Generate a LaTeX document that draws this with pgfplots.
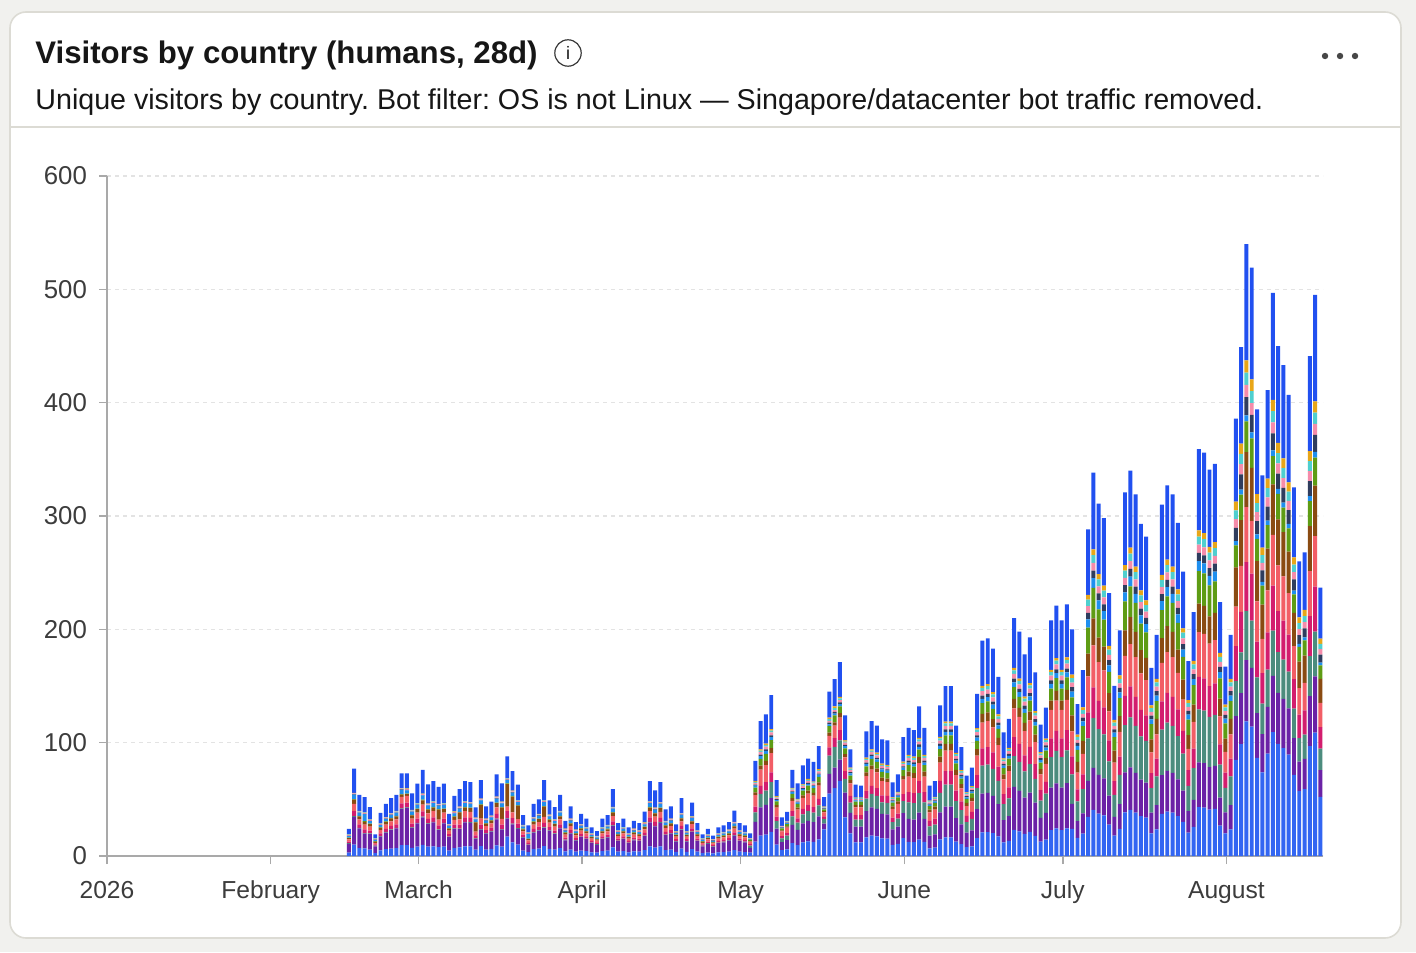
\documentclass[border=0pt]{standalone}
\usepackage{fontspec}
\setmainfont{Liberation Sans}
\usepackage{pgfplots}
\usepackage{pgfplotstable}
\pgfplotsset{compat=1.18}
\definecolor{bgc}{HTML}{F1F1EE}
\definecolor{cardb}{HTML}{DCDBD4}
\definecolor{axisc}{HTML}{A9A9A9}
\definecolor{gridc}{HTML}{E3E3E3}
\definecolor{labc}{HTML}{3C3C3C}
\definecolor{titc}{HTML}{161616}
\definecolor{cb}{HTML}{3366F2}
\definecolor{cp}{HTML}{6B22A6}
\definecolor{ct}{HTML}{4C8C7E}
\definecolor{cm}{HTML}{D31D6E}
\definecolor{cc}{HTML}{F25E66}
\definecolor{cbr}{HTML}{8A4B12}
\definecolor{cg}{HTML}{5E9C14}
\definecolor{clb}{HTML}{1F8FEF}
\definecolor{cnv}{HTML}{2F3D5E}
\definecolor{cpk}{HTML}{F58CAA}
\definecolor{ccy}{HTML}{4FCFCF}
\definecolor{cor}{HTML}{E8A618}
\definecolor{co}{HTML}{2150F0}

\pgfplotstableread{
i b p t m c br g lb nv pk cy or o
0 3.1 7.7 .5 1.4 1.9 1.2 .5 1.2 .3 .7 .3 .3 4.8
1 10 24.6 .5 4.6 6.2 3.9 .5 3.9 .3 .7 .3 .3 21.2
2 7 17.3 .5 3.2 4.3 2.7 .5 2.7 .3 .7 .3 .3 14.1
3 6.8 13 .5 3.1 4.2 2.6 .5 6.2 .3 .7 .3 .3 13.5
4 5.6 13.8 .5 2.6 3.4 2.2 .5 2.2 .3 .7 .3 .3 10.7
5 2.5 6.1 .5 1.1 1.5 1 .5 1 .3 .7 .3 .3 3.3
6 4.9 12.2 .5 2.3 3 1.9 .5 1.9 .3 .7 .3 .3 9.2
7 6 14.7 .5 2.8 3.7 2.3 .5 2.3 .3 .7 .3 .3 11.7
8 6.6 16.3 .5 3.1 4.1 2.6 .5 2.6 .3 .7 .3 .3 13.2
9 7 17.3 .5 3.2 4.3 2.7 .5 2.7 .3 .7 .3 .3 14.1
10 9.5 32 .5 4.4 5.8 2 .5 3.7 .3 .7 .3 .3 13
11 9.5 33 .5 4 6 1.5 .5 3 .3 .7 .3 .3 13.4
12 7.2 17.6 .5 3.3 4.4 2.8 .5 2.8 .3 .7 .3 .3 14.5
13 8.3 20.5 .5 3.8 5.1 3.2 .5 3.2 .3 .7 .3 .3 17.2
14 9.9 24.3 .5 4.6 6.1 3.8 .5 3.8 .3 .7 .3 .3 21
15 8.2 20.2 .5 3.8 5 3.2 .5 3.2 .3 .7 .3 .3 16.9
16 8.6 21.1 .5 4 5.3 3.3 .5 3.3 .3 .7 .3 .3 17.9
17 7.9 15 .5 3.7 4.9 9 .5 3 .3 .7 .3 .3 14.9
18 8.3 20.5 .5 3.8 5.1 3.2 .5 3.2 .3 .7 .3 .3 17.2
19 4.8 11.8 .5 2.2 3 1.9 .5 1.9 .3 .7 .3 .3 8.9
20 6.9 17 .5 3.2 4.2 2.7 .5 2.7 .3 .7 .3 .3 13.8
21 7.7 16 .5 3.5 4.7 6 .5 3 .3 .7 .3 .3 15.5
22 8.6 21.1 .5 4 5.3 3.3 .5 3.3 .3 .7 .3 .3 17.9
23 8.5 20.8 .5 3.9 5.2 3.3 .5 3.3 .3 .7 .3 .3 17.6
24 5.6 9.5 .5 2.6 3.4 8 .5 2.2 .3 .7 .3 .3 9.1
25 8.7 14.5 .5 4 5.4 12 .5 3.4 .3 .7 .3 .3 16.4
26 5.7 14.1 .5 2.6 3.5 2.2 .5 2.2 .3 .7 .3 .3 11
27 6.2 15.4 .5 2.9 3.8 2.4 .5 2.4 .3 .7 .3 .3 12.3
28 9.4 23 .5 4.3 5.8 3.6 .5 3.6 .3 .7 .3 .3 19.7
29 8.3 15 .5 3.8 5.1 10 .5 3.2 .3 .7 .3 .3 16
30 17 16 .5 6 4 20 .5 3 .3 .7 .3 .3 19.4
31 12 16 .5 5 5 14 .5 3 .3 .7 .3 .3 17.4
32 10 14 .5 4 4 12 .5 2.5 .3 .7 .3 .3 13.9
33 4.7 11.5 .5 2.2 2.9 1.8 .5 1.8 .3 .7 .3 .3 8.6
34 3.5 6 .5 1.6 2.2 1 .5 4 .3 .7 .3 .3 6.1
35 6 14.7 .5 2.8 3.7 2.3 .5 2.3 .3 .7 .3 .3 11.7
36 6.5 16 .5 3 4 2.5 .5 2.5 .3 .7 .3 .3 12.9
37 8.7 16 .5 4 5.4 9 .5 3.4 .3 .7 .3 .3 17.9
38 6.4 15.7 .5 2.9 3.9 2.5 .5 2.5 .3 .7 .3 .3 12.6
39 5.6 13.8 .5 2.6 3.4 2.2 .5 2.2 .3 .7 .3 .3 10.7
40 7 17.3 .5 3.2 4.3 2.7 .5 2.7 .3 .7 .3 .3 14.1
41 4 9.9 .5 1.9 2.5 1.6 .5 1.6 .3 .7 .3 .3 7
42 5.7 14.1 .5 2.6 3.5 2.2 .5 2.2 .3 .7 .3 .3 11
43 3.9 9.6 .5 1.8 2.4 1.5 .5 1.5 .3 .7 .3 .3 6.7
44 4.8 11.8 .5 2.2 3 1.9 .5 1.9 .3 .7 .3 .3 8.9
45 4.3 10.6 .5 2 2.6 1.7 .5 1.7 .3 .7 .3 .3 7.6
46 3.3 8 .5 1.5 2 1.3 .5 1.3 .3 .7 .3 .3 5.2
47 2.9 7 .5 1.3 1.8 1.1 .5 1.1 .3 .7 .3 .3 4.2
48 4.3 10.6 .5 2 2.6 1.7 .5 1.7 .3 .7 .3 .3 7.6
49 4.7 11.5 .5 2.2 2.9 1.8 .5 1.8 .3 .7 .3 .3 8.6
50 7.7 18.9 .5 3.5 4.7 3 .5 3 .3 .7 .3 .3 15.7
51 3.8 9.3 .5 1.7 2.3 1.5 .5 1.5 .3 .7 .3 .3 6.4
52 4.3 10.6 .5 2 2.6 1.7 .5 1.7 .3 .7 .3 .3 7.6
53 3.3 8 .5 1.5 2 1.3 .5 1.3 .3 .7 .3 .3 5.2
54 4 9.9 .5 1.9 2.5 1.6 .5 1.6 .3 .7 .3 .3 7
55 3.8 9.3 .5 1.7 2.3 1.5 .5 1.5 .3 .7 .3 .3 6.4
56 5.1 12.5 .5 2.3 3.1 2 .5 2 .3 .7 .3 .3 9.5
57 8.6 21.1 .5 4 5.3 3.3 .5 3.3 .3 .7 .3 .3 17.9
58 7.5 18.6 .5 3.5 4.6 2.9 .5 2.9 .3 .7 .3 .3 15.4
59 8.5 20.8 .5 3.9 5.2 3.3 .5 3.3 .3 .7 .3 .3 17.6
60 5.3 13.1 .5 2.5 3.3 2.1 .5 2.1 .3 .7 .3 .3 10.1
61 5.7 14.1 .5 2.6 3.5 2.2 .5 2.2 .3 .7 .3 .3 11
62 3.6 9 .5 1.7 2.2 1.4 .5 1.4 .3 .7 .3 .3 6.1
63 6.6 16.3 .5 3.1 4.1 2.6 .5 2.6 .3 .7 .3 .3 13.2
64 3.6 9 .5 1.7 2.2 1.4 .5 1.4 .3 .7 .3 .3 6.1
65 6.1 15 .5 2.8 3.8 2.4 .5 2.4 .3 .7 .3 .3 12
66 3.8 9.3 .5 1.7 2.3 1.5 .5 1.5 .3 .7 .3 .3 6.4
67 2.5 6.1 .5 1.1 1.5 1 .5 1 .3 .7 .3 .3 3.3
68 3.1 7.7 .5 1.4 1.9 1.2 .5 1.2 .3 .7 .3 .3 4.8
69 2.3 5.8 .5 1.1 1.4 .9 .5 .9 .3 .7 .3 .3 3
70 3.3 8 .5 1.5 2 1.3 .5 1.3 .3 .7 .3 .3 5.2
71 3.5 8.6 .5 1.6 2.2 1.4 .5 1.4 .3 .7 .3 .3 5.8
72 3.9 9.6 .5 1.8 2.4 1.5 .5 1.5 .3 .7 .3 .3 6.7
73 5.2 12.8 .5 2.4 3.2 2 .5 2 .3 .7 .3 .3 9.8
74 3.8 9.3 .5 1.7 2.3 1.5 .5 1.5 .3 .7 .3 .3 6.4
75 3.5 8.6 .5 1.6 2.2 1.4 .5 1.4 .3 .7 .3 .3 5.8
76 3 4.2 2 1.2 2.4 .6 1 .4 .2 .4 .2 .2 4.2
77 12.6 17.6 8.4 5 10.1 2.5 4.2 1.7 .8 1.7 .8 .8 17.8
78 17.9 25 11.9 7.1 14.3 3.6 6 2.4 1.2 2.4 1.2 1.2 24.8
79 18.8 26.3 12.5 7.5 15 3.8 6.3 2.5 1.3 2.5 1.3 1.3 25.9
80 21.3 29.8 14.2 8.5 17 4.3 7.1 2.8 1.4 2.8 1.4 1.4 30
81 10 14.1 6.7 4 8 2 3.4 1.3 .7 1.3 .7 .7 14.1
82 5.1 7.1 3.4 2 4.1 1 1.7 .7 .3 .7 .3 .3 7.3
83 5.9 8.2 3.9 2.3 4.7 1.2 2 .8 .4 .8 .4 .4 8
84 11.4 16 7.6 4.6 9.1 2.3 3.8 1.5 .8 1.5 .8 .8 15.8
85 9.6 13.4 6.4 3.8 7.7 1.9 3.2 1.3 .6 1.3 .6 .6 13.6
86 12 16.8 8 4.8 9.6 2.4 4 1.6 .8 1.6 .8 .8 16.8
87 12.9 18.1 8.6 5.2 10.3 2.6 4.3 1.7 .9 1.7 .9 .9 17.9
88 12.5 17.4 8.3 5 10 2.5 4.2 1.7 .8 1.7 .8 .8 17.3
89 14.6 20.4 9.7 5.8 11.6 2.9 4.9 1.9 1 1.9 1 1 20.3
90 23.4 5.2 4.2 2.1 3.6 1 1.6 .5 .5 .5 .5 .5 8.4
91 55.1 17.4 16 7.3 10.2 2.9 5.8 1.5 1.5 1.5 1.5 1.5 22.8
92 60 18 18 8 11 3 6 1.6 1.6 1.6 1.6 1.6 24
93 66 19 17 9 11 4 6 2 1.5 2 1.5 1.5 30.5
94 34 22 12 7 12 3 5 2 1 2 1 1 22
95 20 18 9 6 11 3 4 2 1 2 1 1 16
96 12 14 6 4 7 2 3 1 .5 1 .5 .5 11.5
97 12 14 6 4 7 2 3 1 .5 1 .5 .5 10.5
98 16.5 23.1 11 6.6 13.2 3.3 5.5 2.2 1.1 2.2 1.1 1.1 23.1
99 17.9 25 11.9 7.1 14.3 3.6 6 2.4 1.2 2.4 1.2 1.2 24.8
100 17.3 24.2 11.5 6.9 13.8 3.5 5.8 2.3 1.2 2.3 1.2 1.2 23.8
101 15.5 21.6 10.3 6.2 12.4 3.1 5.2 2.1 1 2.1 1 1 21.5
102 15.3 21.4 10.2 6.1 12.2 3.1 5.1 2 1 2 1 1 21.6
103 9.8 13.7 6.5 3.9 7.8 2 3.3 1.3 .7 1.3 .7 .7 13.3
104 10.8 15.1 7.2 4.3 8.6 2.2 3.6 1.4 .7 1.4 .7 .7 15.3
105 15.8 22.1 10.5 6.3 12.6 3.2 5.3 2.1 1.1 2.1 1.1 1.1 21.7
106 12.4 20.3 14.7 9 13.6 4.5 5.7 2.3 1.7 2.3 1.7 1.1 23.7
107 12.2 20 14.4 8.9 13.3 4.4 5.6 2.2 1.7 2.2 1.7 1.1 23.3
108 14.5 23.8 17.2 10.6 15.8 5.3 6.6 2.6 2 2.6 2 1.3 27.7
109 12.4 20.3 14.7 9 13.6 4.5 5.7 2.3 1.7 2.3 1.7 1.1 23.7
110 6.8 11.2 8.1 5 7.4 2.5 3.1 1.2 .9 1.2 .9 .6 13.1
111 7.3 11.9 8.6 5.3 7.9 2.6 3.3 1.3 1 1.3 1 .7 13.8
112 14.6 23.9 17.3 10.6 16 5.3 6.7 2.7 2 2.7 2 1.3 27.9
113 16.5 27 19.5 12 18 6 7.5 3 2.3 3 2.3 1.5 31.4
114 16.5 27 19.5 12 18 6 7.5 3 2.3 3 2.3 1.5 31.4
115 12.7 20.7 15 9.2 13.8 4.6 5.8 2.3 1.7 2.3 1.7 1.2 24
116 10.6 17.3 12.5 7.7 11.5 3.8 4.8 1.9 1.4 1.9 1.4 1 20.2
117 7.8 12.8 9.2 5.7 8.5 2.8 3.6 1.4 1.1 1.4 1.1 .7 14.9
118 8.6 14 10.1 6.2 9.4 3.1 3.9 1.6 1.2 1.6 1.2 .8 16.3
119 15.7 25.7 18.6 11.4 17.2 5.7 7.2 2.9 2.1 2.9 2.1 1.4 30.1
120 20.9 34.2 24.7 15.2 22.8 7.6 9.5 3.8 2.9 3.8 2.9 1.9 39.8
121 21.1 34.6 25 15.4 23 7.7 9.6 3.8 2.9 3.8 2.9 1.9 40.3
122 20.1 32.9 23.8 14.6 22 7.3 9.2 3.7 2.7 3.7 2.7 1.8 38.5
123 17.4 28.4 20.5 12.6 19 6.3 7.9 3.2 2.4 3.2 2.4 1.6 33.1
124 12 19.6 14.2 8.7 13.1 4.4 5.5 2.2 1.6 2.2 1.6 1.1 22.8
125 13.3 21.8 15.7 9.7 14.5 4.8 6.1 2.4 1.8 2.4 1.8 1.2 25.5
126 23.1 37.8 27.3 16.8 25.2 8.4 10.5 4.2 3.2 4.2 3.2 2.1 44
127 21.8 35.6 25.7 15.8 23.8 7.9 9.9 4 3 4 3 2 41.5
128 19.6 32 23.1 14.2 21.4 7.1 8.9 3.6 2.7 3.6 2.7 1.8 37.3
129 21.2 34.7 25.1 15.4 23.2 7.7 9.7 3.9 2.9 3.9 2.9 1.9 40.5
130 17.8 29.2 21.1 13 19.4 6.5 8.1 3.2 2.4 3.2 2.4 1.6 34.1
131 12.8 20.9 15.1 9.3 13.9 4.6 5.8 2.3 1.7 2.3 1.7 1.2 24.4
132 14.4 23.6 17 10.5 15.7 5.2 6.6 2.6 2 2.6 2 1.3 27.5
133 22.9 37.4 27 16.6 25 8.3 10.4 4.2 3.1 4.2 3.1 2.1 43.7
134 24.3 39.8 28.7 17.7 26.5 8.8 11.1 4.4 3.3 4.4 3.3 2.2 46.5
135 22.9 37.4 27 16.6 25 8.3 10.4 4.2 3.1 4.2 3.1 2.1 43.7
136 24.4 40 28.9 17.8 26.6 8.9 11.1 4.4 3.3 4.4 3.3 2.2 46.7
137 24 22 26 16 22 14 16 5 4 4 4 3 40
138 16.1 14.7 17.4 10.7 14.7 9.4 10.7 3.4 2.7 2.7 2.7 2 26.8
139 19.7 18 21.3 13.1 18 11.5 13.1 4.1 3.3 3.3 3.3 2.5 32.8
140 34.6 31.7 37.4 23 31.7 20.2 23 7.2 5.8 5.8 5.8 4.3 57.6
141 40.6 37.2 43.9 27 37.2 23.7 27 8.5 6.8 6.8 6.8 5.1 67.6
142 37.3 34.2 40.4 24.9 34.2 21.8 24.9 7.8 6.2 6.2 6.2 4.7 62.2
143 35.8 32.8 38.7 23.8 32.8 20.9 23.8 7.5 6 6 6 4.5 59.6
144 27.8 25.5 30.2 18.6 25.5 16.2 18.6 5.8 4.6 4.6 4.6 3.5 46.4
145 18 16.5 19.5 12 16.5 10.5 12 3.8 3 3 3 2.3 30
146 23.9 21.9 25.9 15.9 21.9 13.9 15.9 5 4 4 4 3 39.8
147 38.5 35.3 41.7 25.7 35.3 22.5 25.7 8 6.4 6.4 6.4 4.8 64.2
148 40.8 37.4 44.2 27.2 37.4 23.8 27.2 8.5 6.8 6.8 6.8 5.1 68
149 38.3 35.1 41.5 25.5 35.1 22.3 25.5 8 6.4 6.4 6.4 4.8 63.8
150 35.2 32.2 38.1 23.4 32.2 20.5 23.4 7.3 5.9 5.9 5.9 4.4 58.6
151 33.8 31 36.7 22.6 31 19.7 22.6 7.1 5.6 5.6 5.6 4.2 56.4
152 19.9 18.3 21.6 13.3 18.3 11.6 13.3 4.2 3.3 3.3 3.3 2.5 33.2
153 23.4 21.5 25.4 15.6 21.5 13.7 15.6 4.9 3.9 3.9 3.9 2.9 39
154 37.2 34.1 40.3 24.8 34.1 21.7 24.8 7.8 6.2 6.2 6.2 4.7 62
155 39.2 36 42.5 26.2 36 22.9 26.2 8.2 6.5 6.5 6.5 4.9 65.4
156 38.3 35.1 41.5 25.5 35.1 22.3 25.5 8 6.4 6.4 6.4 4.8 63.8
157 35.3 32.3 38.2 23.5 32.3 20.6 23.5 7.4 5.9 5.9 5.9 4.4 58.8
158 30.1 27.6 32.6 20.1 27.6 17.6 20.1 6.3 5 5 5 3.8 50.2
159 20.6 18.9 22.4 13.8 18.9 12 13.8 4.3 3.4 3.4 3.4 2.6 34.4
160 25.8 23.7 28 17.2 23.7 15.1 17.2 5.4 4.3 4.3 4.3 3.2 43
161 43.1 39.5 46.7 28.7 39.5 25.1 28.7 9 7.2 7.2 7.2 5.4 71.8
162 42.7 39.2 46.3 28.5 39.2 24.9 28.5 8.9 7.1 7.1 7.1 5.3 71.2
163 40.9 37.5 44.3 27.3 37.5 23.9 27.3 8.5 6.8 6.8 6.8 5.1 68.2
164 41.5 38.1 45 27.7 38.1 24.2 27.7 8.7 6.9 6.9 6.9 5.2 69.2
165 26.9 24.6 29.1 17.9 24.6 15.7 17.9 5.6 4.5 4.5 4.5 3.4 44.8
166 20 18.4 21.7 13.4 18.4 11.7 13.4 4.2 3.3 3.3 3.3 2.5 33.4
167 23.4 21.5 25.4 15.6 21.5 13.7 15.6 4.9 3.9 3.9 3.9 2.9 39
168 84.9 38.6 30.9 30.9 34.7 34.7 19.3 3.9 11.6 7.7 7.7 7.7 73.3
169 98.8 44.9 35.9 35.9 40.4 40.4 22.5 4.5 13.5 9 9 9 85.3
170 118.8 54 43.2 43.2 48.6 48.6 27 5.4 16.2 10.8 10.8 10.8 102.6
171 114.2 51.9 41.5 41.5 46.7 46.7 26 5.2 15.6 10.4 10.4 10.4 98.6
172 86.7 39.4 31.5 31.5 35.5 35.5 19.7 3.9 11.8 7.9 7.9 7.9 74.9
173 73.9 33.6 26.9 26.9 30.2 30.2 16.8 3.4 10.1 6.7 6.7 6.7 63.8
174 90.4 41.1 32.9 32.9 37 37 20.6 4.1 12.3 8.2 8.2 8.2 78.1
175 109.3 49.7 39.8 39.8 44.7 44.7 24.9 5 14.9 9.9 9.9 9.9 94.4
176 99 45 36 36 40.5 40.5 22.5 4.5 13.5 9 9 9 85.5
177 95.3 43.3 34.6 34.6 39 39 21.7 4.3 13 8.7 8.7 8.7 82.3
178 89.5 40.7 32.6 32.6 36.6 36.6 20.4 4.1 12.2 8.1 8.1 8.1 77.3
179 71.5 32.5 26 26 29.3 29.3 16.3 3.3 9.8 6.5 6.5 6.5 61.8
180 57.2 26 20.8 20.8 23.4 23.4 13 2.6 7.8 5.2 5.2 5.2 49.4
181 59 26.8 21.4 21.4 24.1 24.1 13.4 2.7 8 5.4 5.4 5.4 50.9
182 97 44.1 35.3 35.3 39.7 39.7 22.1 4.4 13.2 8.8 8.8 8.8 83.8
183 108.9 49.5 39.6 39.6 44.6 44.6 24.8 5 14.9 9.9 9.9 9.9 94
184 52.1 23.7 19 19 21.3 21.3 11.9 2.4 7.1 4.7 4.7 4.7 45
}\data

\begin{document}
\frenchspacing
\begin{tikzpicture}
\useasboundingbox (0,0) rectangle (708pt,-476pt);
\fill[bgc] (0,0) rectangle (708pt,-476pt);
\draw[fill=white, draw=cardb, line width=0.8pt, rounded corners=8pt] (5pt,-6pt) rectangle (700.5pt,-469pt);
\draw[cardb, line width=0.8pt] (5pt,-63.5pt) -- (700.5pt,-63.5pt);
\node[anchor=base west, inner sep=0pt, text=titc, font=\fontsize{15.6}{18}\selectfont\bfseries] at (17.5pt,-32pt) {Visitors by country (humans, 28d)};
\draw[line width=0.6pt, titc!85] (284pt,-26.5pt) circle (6.6pt);
\node[text=titc, font=\fontsize{9}{10}\selectfont, inner sep=0pt] at (284pt,-26.5pt) {i};
\node[anchor=base west, inner sep=0pt, text=titc, font=\fontsize{14.32}{17}\selectfont] at (17.5pt,-55pt) {Unique visitors by country. Bot filter: OS is not Linux — Singapore/datacenter bot traffic removed.};
\fill[black!72] (662.5pt,-28pt) circle (1.6pt);
\fill[black!72] (670pt,-28pt) circle (1.6pt);
\fill[black!72] (677.5pt,-28pt) circle (1.6pt);
\begin{axis}[
  at={(53.5pt,-428pt)}, anchor=south west,
  scale only axis, width=608pt, height=340pt,
  xmin=0, xmax=230.3, ymin=0, ymax=600,
  ybar stacked, bar width=0.75,
  axis x line=bottom, axis y line=left,
  axis line style={draw=axisc, line width=0.8pt, -},
  xtick={0,31,59,90,120,151,181,212},
  xticklabels={2026,February,March,April,May,June,July,August},
  ytick={0,100,200,300,400,500,600},
  tick align=outside, major tick length=4pt,
  tick style={draw=axisc, line width=0.8pt},
  ymajorgrids, grid style={dash pattern=on 2pt off 2pt, draw=gridc, line width=0.6pt},
  xticklabel style={font=\fontsize{12.3}{14}\selectfont, text=labc, yshift=-5pt},
  yticklabel style={font=\fontsize{12.9}{14}\selectfont, text=labc, xshift=-2.5pt},
  /pgf/number format/assume math mode=true,
  every axis plot/.append style={draw=none},
]
\addplot[fill=cb]  table[x expr=\thisrow{i}+45.8, y=b]  {\data};
\addplot[fill=cp]  table[x expr=\thisrow{i}+45.8, y=p]  {\data};
\addplot[fill=ct]  table[x expr=\thisrow{i}+45.8, y=t]  {\data};
\addplot[fill=cm]  table[x expr=\thisrow{i}+45.8, y=m]  {\data};
\addplot[fill=cc]  table[x expr=\thisrow{i}+45.8, y=c]  {\data};
\addplot[fill=cbr] table[x expr=\thisrow{i}+45.8, y=br] {\data};
\addplot[fill=cg]  table[x expr=\thisrow{i}+45.8, y=g]  {\data};
\addplot[fill=clb] table[x expr=\thisrow{i}+45.8, y=lb] {\data};
\addplot[fill=cnv] table[x expr=\thisrow{i}+45.8, y=nv] {\data};
\addplot[fill=cpk] table[x expr=\thisrow{i}+45.8, y=pk] {\data};
\addplot[fill=ccy] table[x expr=\thisrow{i}+45.8, y=cy] {\data};
\addplot[fill=cor] table[x expr=\thisrow{i}+45.8, y=or] {\data};
\addplot[fill=co]  table[x expr=\thisrow{i}+45.8, y=o]  {\data};
\end{axis}
\end{tikzpicture}
\end{document}
